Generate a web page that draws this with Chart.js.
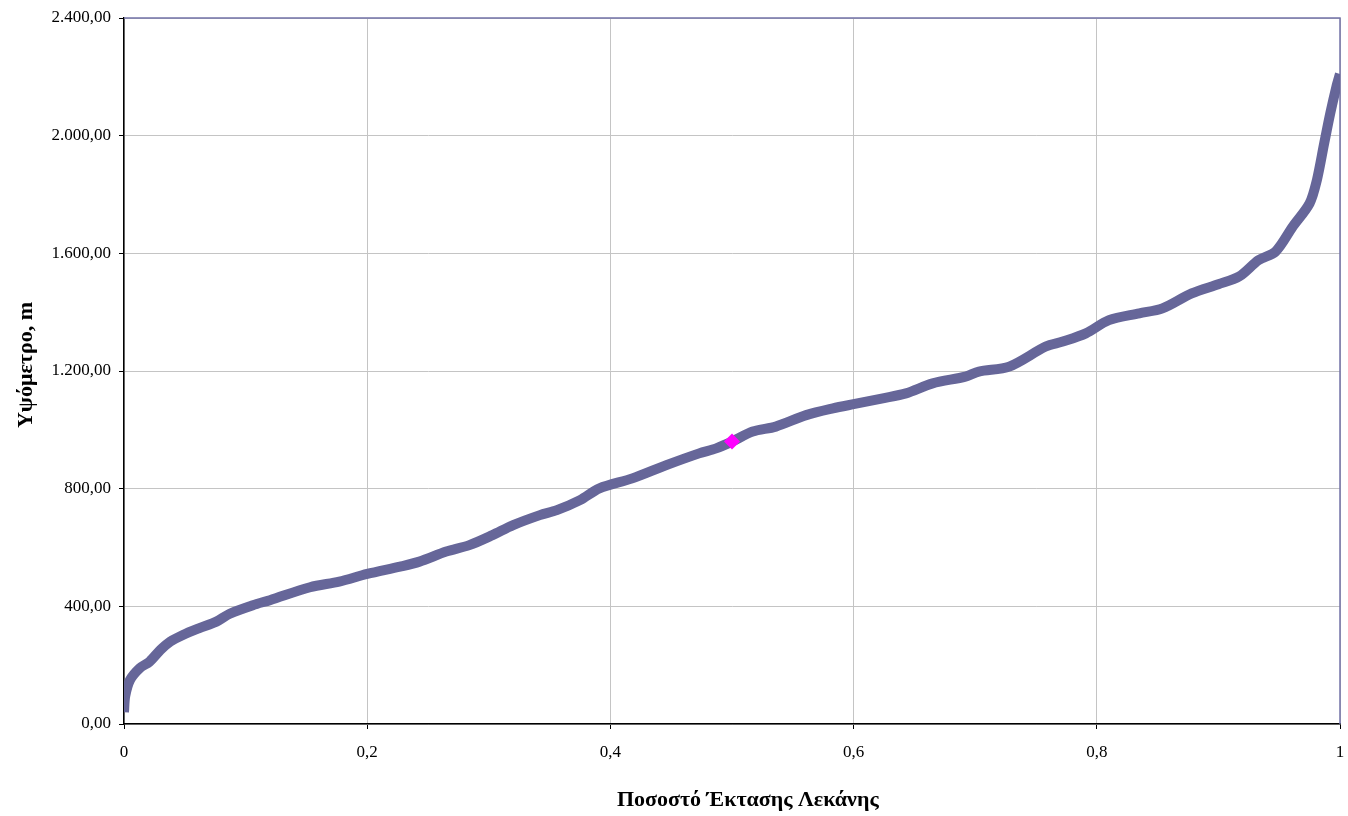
<!DOCTYPE html>
<html>
<head>
<meta charset="utf-8">
<script src="https://cdn.jsdelivr.net/npm/chart.js@4/dist/chart.umd.min.js"></script>
<style>
  html, body { margin: 0; padding: 0; background: #ffffff; }
  #wrap { width: 1348px; height: 816px; }
</style>
</head>
<body>
<div id="wrap"><canvas id="c" width="1348" height="816"></canvas></div>
<script>
// Hypsometric curve: fraction of basin area vs elevation (m)
const areaFraction = [
  0, 0.001, 0.005, 0.013, 0.021, 0.030, 0.038, 0.048, 0.062, 0.076, 0.087,
  0.106, 0.120, 0.153, 0.177, 0.200, 0.227, 0.243, 0.265, 0.284, 0.303,
  0.320, 0.342, 0.356, 0.375, 0.391, 0.418, 0.446, 0.473, 0.487, 0.500,
  0.517, 0.536, 0.561, 0.583, 0.601, 0.624, 0.643, 0.665, 0.692, 0.703,
  0.728, 0.758, 0.772, 0.791, 0.810, 0.835, 0.854, 0.878, 0.900, 0.917,
  0.933, 0.947, 0.961, 0.975, 0.981, 0.987, 0.992, 0.997, 1.000
];
const elevation = [
  40, 95, 150, 190, 212, 252, 280, 302, 326, 348, 375,
  404, 421, 465, 484, 510, 535, 552, 586, 608, 642,
  676, 710, 727, 761, 801, 835, 880, 920, 937, 960,
  994, 1011, 1050, 1073, 1088, 1107, 1124, 1158, 1181, 1198,
  1215, 1283, 1300, 1328, 1373, 1396, 1413, 1464, 1495, 1521,
  1577, 1606, 1690, 1770, 1849, 1974, 2076, 2166, 2210
];
// Median elevation (50% of basin area)
const medianFraction = [0.5];
const medianElevation = [960];

const xTickStep = 0.2;
const yTickStep = 400;
const xTitle = 'Ποσοστό Έκτασης Λεκάνης';
const yTitle = 'Υψόμετρο, m';

const serif = '"Liberation Serif", "DejaVu Serif", serif';

const curvePoints = areaFraction.map((x, i) => ({ x: x, y: elevation[i] }));
const medianPoints = medianFraction.map((x, i) => ({ x: x, y: medianElevation[i] }));

// Top and right edges of the plot frame
const framePlugin = {
  id: 'frame',
  beforeDatasetsDraw(chart) {
    const a = chart.chartArea;
    const ctx = chart.ctx;
    ctx.save();
    ctx.strokeStyle = '#7373a8';
    ctx.lineWidth = 1.5;
    ctx.beginPath();
    ctx.moveTo(a.left, a.top);
    ctx.lineTo(a.right, a.top);
    ctx.lineTo(a.right, a.bottom);
    ctx.stroke();
    ctx.restore();
  }
};

// Axis titles
const titlePlugin = {
  id: 'axisTitles',
  afterDraw(chart) {
    const a = chart.chartArea;
    const ctx = chart.ctx;
    ctx.save();
    ctx.fillStyle = '#000000';
    ctx.font = 'bold 22px ' + serif;
    ctx.textAlign = 'center';
    ctx.textBaseline = 'middle';
    ctx.fillText(xTitle, a.left + (a.right - a.left) * 0.513, a.bottom + 76);
    ctx.translate(a.left - 98, (a.top + a.bottom) / 2 - 6);
    ctx.rotate(-Math.PI / 2);
    ctx.fillText(yTitle, 0, 0);
    ctx.restore();
  }
};

new Chart(document.getElementById('c'), {
  type: 'scatter',
  data: {
    datasets: [
      {
        data: medianPoints,
        pointStyle: 'rectRot',
        pointRadius: 8,
        pointBackgroundColor: '#ff00ff',
        pointBorderWidth: 0,
        showLine: false,
        order: 0
      },
      {
        data: curvePoints,
        showLine: true,
        borderColor: '#666699',
        borderWidth: 10,
        borderCapStyle: 'butt',
        borderJoinStyle: 'round',
        tension: 0.3,
        pointRadius: 0,
        order: 1
      }
    ]
  },
  options: {
    responsive: false,
    animation: false,
    layout: { padding: { top: 18, right: 7, left: 0, bottom: 0 } },
    plugins: {
      legend: { display: false },
      tooltip: { enabled: false }
    },
    scales: {
      x: {
        type: 'linear',
        min: 0,
        max: 1,
        afterFit(scale) {
          scale.height = 92;
          scale.paddingLeft = 0;
          scale.paddingRight = 0;
        },
        ticks: {
          stepSize: xTickStep,
          color: '#000000',
          font: { family: serif, size: 17 },
          padding: 13,
          maxRotation: 0,
          callback: (v) => String(Number(v.toFixed(1))).replace('.', ',')
        },
        grid: { color: '#c4c4c4', tickColor: '#000000', tickLength: 5, lineWidth: 1 },
        border: { color: '#000000', width: 1.5 }
      },
      y: {
        type: 'linear',
        min: 0,
        max: 2400,
        afterFit(scale) {
          scale.width = 124;
          scale.paddingTop = 0;
          scale.paddingBottom = 0;
        },
        ticks: {
          stepSize: yTickStep,
          color: '#000000',
          font: { family: serif, size: 17 },
          padding: 8,
          callback: (v) => v.toLocaleString('de-DE', { minimumFractionDigits: 2, maximumFractionDigits: 2 })
        },
        grid: { color: '#c4c4c4', tickColor: '#000000', tickLength: 5, lineWidth: 1 },
        border: { color: '#000000', width: 1.5 }
      }
    }
  },
  plugins: [framePlugin, titlePlugin]
});
</script>
</body>
</html>
